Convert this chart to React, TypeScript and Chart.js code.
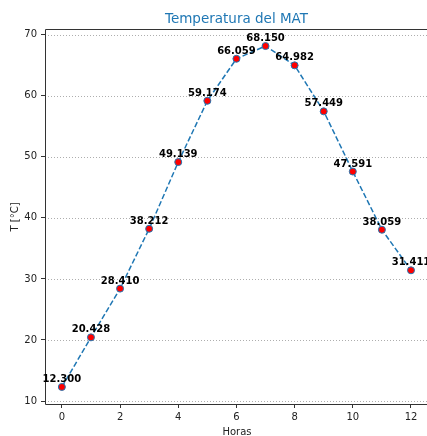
import React, { useEffect, useRef } from "react";
import { Chart, registerables } from "chart.js";

Chart.register(...registerables);

const hours = [0, 1, 2, 3, 4, 5, 6, 7, 8, 9, 10, 11, 12];
const temps = [12.3, 20.428, 28.41, 38.212, 49.139, 59.174, 66.059, 68.15, 64.982, 57.449, 47.591, 38.059, 31.411];
const yTicks = [10, 20, 30, 40, 50, 60, 70];
const titleText = "Temperatura del MAT";
const xLabel = "Horas";
const yLabel = "T [°C]";

const FONT = "'DejaVu Sans', sans-serif";

const decorPlugin = {
  id: "decor",
  beforeDatasetsDraw(chart: any) {
    const { ctx, chartArea, scales } = chart;
    ctx.save();
    ctx.strokeStyle = "#999";
    ctx.lineWidth = 0.8;
    ctx.setLineDash([1, 2]);
    for (const v of yTicks) {
      const y = Math.round(scales.y.getPixelForValue(v)) + 0.5;
      ctx.beginPath();
      ctx.moveTo(chartArea.left, y);
      ctx.lineTo(chart.width, y);
      ctx.stroke();
    }
    ctx.restore();
  },
  afterDatasetsDraw(chart: any) {
    const { ctx, chartArea, scales } = chart;
    ctx.save();
    ctx.strokeStyle = "#333";
    ctx.lineWidth = 1;
    ctx.setLineDash([]);
    ctx.beginPath();
    ctx.moveTo(chartArea.left + 0.5, chartArea.top + 0.5);
    ctx.lineTo(chartArea.left + 0.5, chartArea.bottom + 0.5);
    ctx.lineTo(chart.width, chartArea.bottom + 0.5);
    ctx.moveTo(chartArea.left + 0.5, chartArea.top + 0.5);
    ctx.lineTo(chart.width, chartArea.top + 0.5);
    ctx.stroke();
    ctx.fillStyle = "#000";
    ctx.font = `bold 10px ${FONT}`;
    ctx.textAlign = "center";
    ctx.textBaseline = "alphabetic";
    hours.forEach((h, i) => {
      const x = scales.x.getPixelForValue(h);
      const y = scales.y.getPixelForValue(temps[i]);
      ctx.fillText(temps[i].toFixed(3), x, y - 5);
    });
    ctx.fillStyle = "#1f77b4";
    ctx.font = `13.5px ${FONT}`;
    ctx.fillText(titleText, 236.5, 23);
    ctx.fillStyle = "#222";
    ctx.font = `10px ${FONT}`;
    ctx.fillText(xLabel, 237, 435);
    ctx.translate(15, 217);
    ctx.rotate(-Math.PI / 2);
    ctx.textBaseline = "middle";
    ctx.fillText(yLabel, 0, 0);
    ctx.restore();
  },
};

export default function App() {
  const ref = useRef<HTMLCanvasElement | null>(null);
  useEffect(() => {
    if (!ref.current) return;
    const chart = new Chart(ref.current, {
      type: "line",
      data: {
        datasets: [
          {
            data: hours.map((h, i) => ({ x: h, y: temps[i] })),
            borderColor: "#1f77b4",
            borderWidth: 1.5,
            borderDash: [5.5, 2.4],
            pointRadius: 3.5,
            pointBackgroundColor: "#ff0000",
            pointBorderColor: "#1f77b4",
            pointBorderWidth: 1,
            fill: false,
            tension: 0,
          },
        ],
      },
      options: {
        animation: false,
        responsive: false,
        maintainAspectRatio: false,
        layout: { autoPadding: false, padding: { top: 29, left: 0, right: 0, bottom: 0 } },
        plugins: { legend: { display: false }, tooltip: { enabled: false }, title: { display: false } },
        scales: {
          x: {
            type: "linear",
            min: -0.58,
            max: 12.55,
            afterFit: (s: any) => {
              s.height = 32;
              s.paddingLeft = 0;
              s.paddingRight = 0;
            },
            ticks: {
              stepSize: 2,
              includeBounds: false,
              padding: 3,
              color: "#222",
              font: { family: FONT, size: 10 },
              maxRotation: 0,
            },
            grid: { drawOnChartArea: false, drawTicks: true, tickLength: 4, tickColor: "#333", tickWidth: 1 },
            border: { display: false },
          },
          y: {
            type: "linear",
            min: 9.51,
            max: 70.94,
            afterFit: (s: any) => {
              s.width = 45;
              s.paddingTop = 0;
              s.paddingBottom = 0;
            },
            ticks: {
              stepSize: 10,
              includeBounds: false,
              padding: 4,
              color: "#222",
              font: { family: FONT, size: 10 },
            },
            grid: { drawOnChartArea: false, drawTicks: true, tickLength: 4, tickColor: "#333", tickWidth: 1 },
            border: { display: false },
          },
        },
      },
      plugins: [decorPlugin],
    });
    return () => chart.destroy();
  }, []);
  return (
    <div style={{ position: "absolute", left: 0, top: 0, width: 427, height: 436, overflow: "hidden", background: "#fff" }}>
      <canvas ref={ref} width={427} height={436} style={{ display: "block", width: 427, height: 436 }} />
    </div>
  );
}
